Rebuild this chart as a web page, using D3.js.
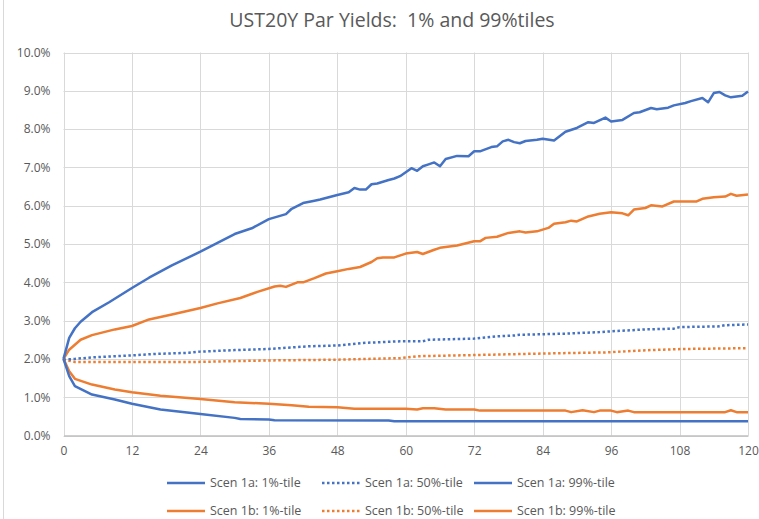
<!DOCTYPE html>
<html>
<head>
<meta charset="utf-8">
<script src="https://cdn.jsdelivr.net/npm/d3@7"></script>
<style>
  html, body { margin: 0; padding: 0; background: #fff; }
  svg { display: block; font-family: "Open Sans", "Noto Sans", sans-serif; }
</style>
</head>
<body>
<svg id="chart" width="759" height="519"></svg>
<script>
const chartTitle = "UST20Y Par Yields:  1% and 99%tiles";
const xTicks = [0, 12, 24, 36, 48, 60, 72, 84, 96, 108, 120];
const yTicks = [0, 1, 2, 3, 4, 5, 6, 7, 8, 9, 10];

// [month, yield %]
const scen1a_p1 = [[0,2.0],[1,1.55],[2,1.29],[5,1.07],[9,0.94],[12,0.83],[17,0.68],[24,0.56],[30,0.46],[31,0.43],[36,0.42],[37,0.40],[57,0.39],[58,0.37],[120,0.37]];
const scen1a_p50 = [[0,1.98],[2,2.0],[5,2.04],[9,2.07],[12,2.09],[16,2.13],[22,2.16],[24,2.19],[30,2.23],[36,2.26],[43,2.33],[48,2.35],[53,2.42],[59,2.46],[63,2.46],[64,2.5],[72,2.53],[76,2.59],[79,2.61],[80,2.63],[88,2.66],[94,2.7],[96,2.72],[102,2.77],[107,2.79],[108,2.83],[115,2.85],[116,2.88],[120,2.9]];
const scen1a_p99 = [[0,2.0],[1,2.55],[2,2.8],[3,2.97],[5,3.22],[8,3.48],[12,3.85],[15,4.12],[19,4.44],[24,4.8],[27,5.03],[30,5.26],[33,5.41],[36,5.65],[39,5.78],[40,5.92],[42,6.07],[44,6.13],[45,6.16],[47,6.24],[48,6.28],[50,6.35],[51,6.46],[52,6.42],[53,6.42],[54,6.56],[55,6.58],[57,6.67],[58,6.71],[59,6.77],[61,6.98],[62,6.91],[63,7.03],[64,7.08],[65,7.13],[66,7.03],[67,7.22],[69,7.3],[71,7.29],[72,7.42],[73,7.42],[75,7.53],[76,7.55],[77,7.68],[78,7.72],[79,7.66],[80,7.63],[81,7.69],[83,7.72],[84,7.75],[86,7.7],[88,7.93],[90,8.03],[92,8.18],[93,8.16],[95,8.3],[96,8.2],[98,8.24],[100,8.42],[101,8.44],[103,8.55],[104,8.52],[106,8.56],[107,8.62],[109,8.68],[110,8.73],[112,8.81],[113,8.7],[114,8.94],[115,8.97],[116,8.88],[117,8.83],[118,8.85],[119,8.87],[120,8.98]];
const scen1b_p1 = [[0,2.0],[1,1.68],[2,1.48],[5,1.33],[9,1.2],[12,1.13],[17,1.04],[24,0.95],[30,0.87],[36,0.83],[40,0.79],[43,0.75],[48,0.74],[51,0.7],[60,0.7],[62,0.68],[63,0.71],[65,0.71],[67,0.68],[72,0.68],[73,0.65],[88,0.65],[89,0.61],[91,0.66],[93,0.61],[94,0.65],[96,0.65],[97,0.61],[99,0.65],[100,0.61],[116,0.61],[117,0.66],[118,0.61],[120,0.61]];
const scen1b_p50 = [[0,1.98],[2,1.92],[11,1.92],[23,1.92],[36,1.96],[48,1.98],[59,2.02],[62,2.07],[72,2.1],[84,2.14],[95,2.17],[103,2.23],[109,2.26],[120,2.28]];
const scen1b_p99 = [[0,2.0],[1,2.24],[3,2.5],[5,2.62],[9,2.77],[12,2.86],[15,3.03],[19,3.16],[24,3.33],[27,3.45],[31,3.59],[34,3.75],[37,3.89],[38,3.91],[39,3.88],[41,4.0],[42,4.0],[44,4.11],[46,4.23],[48,4.29],[50,4.35],[52,4.4],[54,4.53],[55,4.63],[56,4.65],[58,4.65],[60,4.75],[62,4.79],[63,4.74],[65,4.85],[66,4.9],[69,4.96],[72,5.07],[73,5.07],[74,5.16],[76,5.19],[78,5.29],[80,5.33],[81,5.3],[83,5.33],[85,5.42],[86,5.53],[88,5.57],[89,5.61],[90,5.59],[92,5.72],[94,5.79],[96,5.83],[98,5.8],[99,5.75],[100,5.9],[102,5.94],[103,6.01],[105,5.98],[107,6.11],[111,6.11],[112,6.18],[114,6.22],[116,6.24],[117,6.31],[118,6.26],[120,6.29]];

const seriesNames = ["Scen 1a: 1%-tile","Scen 1a: 50%-tile","Scen 1a: 99%-tile","Scen 1b: 1%-tile","Scen 1b: 50%-tile","Scen 1b: 99%-tile"];
const seriesData = [scen1a_p1, scen1a_p50, scen1a_p99, scen1b_p1, scen1b_p50, scen1b_p99];
const seriesColors = ["#4472C4","#4472C4","#4472C4","#ED7D31","#ED7D31","#ED7D31"];
const seriesDotted = [false, true, false, false, true, false];

const svg = d3.select("#chart");
const m = {left: 63.5, right: 748, top: 52.5, bottom: 435.5};
const x = d3.scaleLinear().domain([0, 120]).range([m.left, m.right]);
const y = d3.scaleLinear().domain([0, 10]).range([m.bottom, m.top]);
const textColor = "#595959";

// outer chart border (left edge visible)
svg.append("line").attr("x1", 3.5).attr("x2", 3.5).attr("y1", 0).attr("y2", 519)
  .attr("stroke", "#d9d9d9").attr("stroke-width", 1);

// title
svg.append("text").attr("x", 392).attr("y", 27).attr("text-anchor", "middle")
  .style("white-space", "pre").attr("font-size", 19.5).attr("fill", textColor)
  .text(chartTitle);

// gridlines
const grid = svg.append("g");
grid.selectAll("line.h").data(yTicks).join("line")
  .attr("x1", m.left).attr("x2", m.right)
  .attr("y1", d => Math.round(y(d)) + 0.5).attr("y2", d => Math.round(y(d)) + 0.5)
  .attr("stroke", "#d9d9d9").attr("stroke-width", 1);
grid.selectAll("line.v").data(xTicks).join("line")
  .attr("y1", m.top).attr("y2", m.bottom)
  .attr("x1", d => Math.round(x(d)) + 0.5).attr("x2", d => Math.round(x(d)) + 0.5)
  .attr("stroke", "#d9d9d9").attr("stroke-width", 1);

// axes via d3
const yAxis = d3.axisLeft(y).tickValues(yTicks).tickSize(0).tickPadding(13)
  .tickFormat(d => d3.format(".1f")(d) + "%");
const gy = svg.append("g").attr("transform", `translate(${m.left},0)`).call(yAxis);
gy.select(".domain").remove();
gy.selectAll("text").attr("fill", textColor).attr("font-size", 12).attr("font-family", "Open Sans, sans-serif");

const xAxis = d3.axisBottom(x).tickValues(xTicks).tickSize(0).tickPadding(11);
const gx = svg.append("g").attr("transform", `translate(0,${m.bottom})`).call(xAxis);
gx.select(".domain").attr("stroke", "#bfbfbf").attr("stroke-width", 1.3);
gx.selectAll("text").attr("fill", textColor).attr("font-size", 12).attr("font-family", "Open Sans, sans-serif");

// lines
const line = d3.line().x(d => x(d[0])).y(d => y(d[1]));
const order = [4, 1, 3, 0, 5, 2];
order.forEach(i => {
  svg.append("path").datum(seriesData[i])
    .attr("fill", "none").attr("stroke", seriesColors[i])
    .attr("stroke-width", 2.5)
    .attr("stroke-linejoin", "round")
    .attr("stroke-dasharray", seriesDotted[i] ? "2.5,2.5" : null)
    .attr("d", line);
});

// legend
const legX = [167, 322, 474];
const legY = [483, 511];
const leg = svg.append("g");
seriesNames.forEach((name, i) => {
  const col = i % 3, row = Math.floor(i / 3);
  const g = leg.append("g").attr("transform", `translate(${legX[col]},${legY[row]})`);
  g.append("line").attr("x1", 0).attr("x2", 38).attr("y1", 0).attr("y2", 0)
    .attr("stroke", seriesColors[i]).attr("stroke-width", 2.5)
    .attr("stroke-dasharray", seriesDotted[i] ? "2.5,2.5" : null);
  g.append("text").attr("x", 43).attr("y", 0).attr("dy", "0.35em")
    .attr("font-size", 12.5).attr("fill", textColor).text(name);
});
</script>
</body>
</html>
